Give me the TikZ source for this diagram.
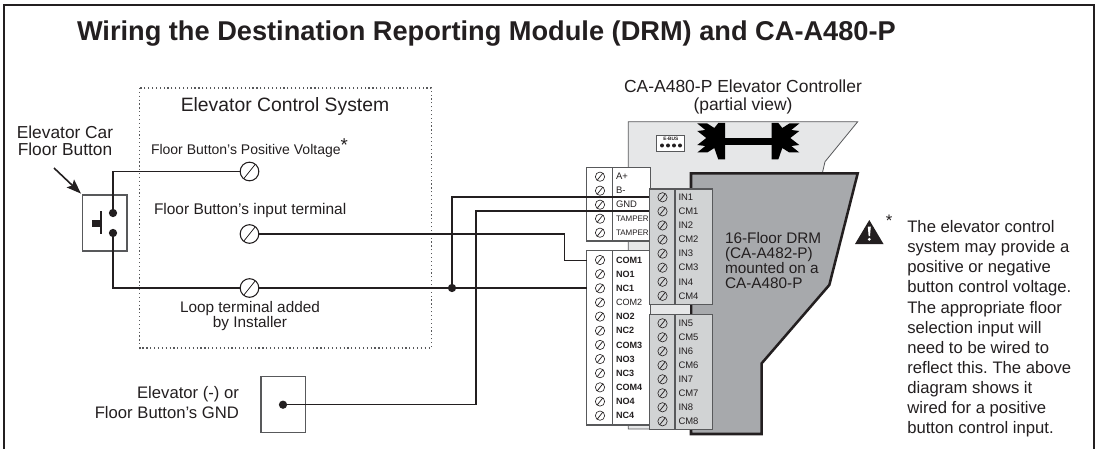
\documentclass[tikz,border=0pt]{standalone}
\usepackage{fontspec}
\setmainfont{Liberation Sans}
\usetikzlibrary{calc,positioning,arrows.meta}
\definecolor{inkblack}{HTML}{231F20}
\definecolor{boardgray}{HTML}{E6E7E8}
\definecolor{blockgray}{HTML}{D1D3D4}
\definecolor{modulegray}{HTML}{A7A9AC}
\definecolor{edgegray}{HTML}{58595B}
\newcommand{\fsize}[1]{\fontsize{#1}{#1}\selectfont}
\newcommand{\rly}[1]{{\fsize{6.8}\bfseries #1}}
\newcommand{\rlyplain}[1]{{\fsize{6.8}#1}}
\newcommand{\tmp}[1]{{\fsize{6}#1}}
\frenchspacing
\tikzset{
	wire/.style={line width=0.85pt, inkblack},
	label/.style={inner sep=0pt, outer sep=0pt, text=inkblack, align=center},
	rowlabel/.style={inner sep=0pt, outer sep=0pt, anchor=west, text=inkblack, font=\fsize{7.1}},
	screw/.style={circle, draw=inkblack, fill=white, line width=0.45pt, inner sep=0pt, outer sep=0pt, minimum size=7pt,
		path picture={\draw[inkblack, line width=0.55pt]
			($(path picture bounding box.south)!.8!(path picture bounding box.south west)$)--
			($(path picture bounding box.north)!.8!(path picture bounding box.north east)$);}},
	terminal/.style={screw, line width=0.8pt, minimum size=14pt},
	dotmark/.style={circle, fill=inkblack, inner sep=0pt, outer sep=0pt, minimum size=6.2pt},
	whitebox/.style={draw=edgegray, fill=white, line width=0.8pt, inner sep=0pt, outer sep=0pt},
	graybox/.style={draw=edgegray, fill=blockgray, line width=0.95pt, inner sep=0pt, outer sep=0pt},
}
\begin{document}
\begin{tikzpicture}[x=0.75pt, y=-0.75pt]
	\useasboundingbox (0,0) rectangle (1109,449);
	\fill[white] (0,0) rectangle (1109,449);
	\draw[line width=1.9pt, inkblack] (4,449)--(4,5)--(1094,5)--(1094,449);
	\node[label, anchor=west, font=\fsize{20.4}\bfseries] (title) at (77,34) {Wiring the Destination Reporting Module (DRM) and CA-A480-P};

	\draw[line width=0.9pt, edgegray, dotted] (139.5,88) rectangle (431.5,348);
	\node[label, font=\fsize{14.5}] (systemlabel) at (285,107) {Elevator Control System};
	\node[label, anchor=west, font=\fsize{10.5}] (poslabel) at (151,148) {Floor Button's Positive Voltage\raisebox{2.5pt}{\fsize{14}*}};
	\node[label, anchor=west, font=\fsize{11.6}] (inputlabel) at (154,210) {Floor Button’s input terminal};
	\node[label, font=\fontsize{11.5}{10.6}\selectfont] (looplabel) at (250,316) {Loop terminal added\\by Installer};
	\node[label, font=\fontsize{13}{12.8}\selectfont] (carlabel) at (65,141) {Elevator Car\\Floor Button};
	\node[label, anchor=east, align=right, font=\fontsize{12.5}{15}\selectfont] (gndlabel) at (239,403) {Elevator (-) or\\Floor Button's GND};
	\node[label, font=\fontsize{13.1}{12.8}\selectfont] (ctrllabel) at (743,97) {CA-A480-P Elevator Controller\\(partial view)};

	\node[draw=edgegray, line width=0.8pt, minimum width=33.4pt, minimum height=42pt, inner sep=0pt, outer sep=0pt] (floorbtn) at (104.75,223) {};
	\node[dotmark] (dottop) at (113,213) {};
	\node[dotmark] (dotbot) at (113,233) {};
	\draw[line width=0.9pt, inkblack] (101,211)--(101,234);
	\fill[inkblack] (92,220) rectangle (101,227);
	\coordinate (arrowtail) at (54,168);
	\draw[-{Stealth[length=11pt,width=8pt,inset=2pt]}, line width=1.2pt, inkblack, shorten >=1.5pt] (arrowtail)--(floorbtn.north west);

	\node[draw=edgegray, line width=0.8pt, minimum width=33.4pt, minimum height=42pt, inner sep=0pt, outer sep=0pt] (gndbox) at (283.25,404.5) {};
	\node[dotmark] (gnddot) at (283,404.7) {};

	\node[terminal] (termpos) at (249.5,171.5) {};
	\node[terminal] (terminput) at (249.5,234) {};
	\node[terminal] (termloop) at (249.5,288) {};

	\draw[draw=edgegray, line width=0.6pt, fill=boardgray] (628.3,121.7)--(857.7,121.7)--(825,161.7)--(822.3,173.3)--(691,173.3)--(691,429)--(628.3,429)--cycle;
	\draw[line width=1.9pt, draw=inkblack, fill=modulegray] (691,173.3)--(857.7,173.3)--(829.3,285)--(761.7,363.3)--(761.7,434)--(691,434)--cycle;

	\foreach \s in {1,-1} {
		\begin{scope}[shift={(748.3,0)}, xscale=\s]
			\fill[black] (-23.3,123)--(-30,123)--(-34,128)--(-41,123.5)--(-51,123.5)--(-43,130)--(-51,131)--(-42,138)--(-51,145)--(-43,146)--(-51,152.5)--(-41,152.5)--(-34,148)--(-30,159.5)--(-23.3,159.5)--cycle;
		\end{scope}
	}
	\fill[black] (725,137.7) rectangle (771.6,144.6);
	\node[draw=edgegray, fill=white, line width=0.6pt, minimum width=21pt, minimum height=11.5pt, inner sep=0pt, outer sep=0pt] (ebus) at (670.8,143.3) {};
	\node[label, font=\fsize{3.6}\bfseries] (ebuslabel) at (670.8,138.6) {E-BUS};
	\foreach \i in {1,2,3,4} {
		\node[dotmark, minimum size=3pt] (ebuspin\i) at ({656+6*\i},145.5) {};
	}

	\node[whitebox, minimum width=48pt, minimum height=55pt] (blockA) at (618.85,204.35) {};
	\node[whitebox, minimum width=48pt, minimum height=130.7pt] (blockB) at (618.85,337.85) {};
	\draw[line width=0.8pt, edgegray] (612.7,167.7)--(612.7,241);
	\draw[line width=0.8pt, edgegray] (612.7,250.7)--(612.7,425);

	\coordinate (gndtop) at (650,197);
	\coordinate (gndbot) at (650,211);
	\coordinate (bendin) at (564.7,234);
	\coordinate (bendgnd) at (476,211);
	\node[dotmark] (joint) at (452,288) {};
	\draw[wire] (dottop)|-(termpos);
	\draw[wire] (dotbot)|-(termloop);
	\draw[wire] (termloop)--(blockB.west|-termloop);
	\draw[wire] (terminput)--(bendin)|-(blockB.west|-0,260.7);
	\draw[wire] (joint)|-(gndtop);
	\draw[wire] (gnddot)-|(bendgnd)--(gndbot);

	\foreach \lbl [count=\i] in {A+,B-,GND,\tmp{TAMPER},\tmp{TAMPER}} {
		\node[screw] (screwA\i) at (600,{162.7+14*\i}) {};
		\node[rowlabel] (rowA\i) at (616,{162.7+14*\i}) {\lbl};
	}
	\foreach \lbl [count=\i] in {\rly{COM1},\rly{NO1},\rly{NC1},\rlyplain{COM2},\rly{NO2},\rly{NC2},\rly{COM3},\rly{NO3},\rly{NC3},\rly{COM4},\rly{NO4},\rly{NC4}} {
		\node[screw] (screwB\i) at (600,{245.85+14.15*\i}) {};
		\node[rowlabel] (rowB\i) at (616,{245.85+14.15*\i}) {\lbl};
	}

	\fill[boardgray] (651,304.3) rectangle (690,314.3);
	\node[graybox, minimum width=47.5pt, minimum height=86.5pt] (inblockA) at (681,246.65) {};
	\node[graybox, minimum width=47.5pt, minimum height=86.2pt] (inblockB) at (681,371.8) {};
	\draw[line width=0.95pt, edgegray] (675,189)--(675,304.3);
	\draw[line width=0.95pt, edgegray] (675,314.3)--(675,429.3);
	\foreach \lbl [count=\i] in {IN1,CM1,IN2,CM2,IN3,CM3,IN4,CM4} {
		\node[screw, fill=blockgray] (screwC\i) at (662.5,{183.2+14.08*\i}) {};
		\node[rowlabel] (rowC\i) at (678.5,{183.2+14.08*\i}) {\lbl};
	}
	\foreach \lbl [count=\i] in {IN5,CM5,IN6,CM6,IN7,CM7,IN8,CM8} {
		\node[screw, fill=blockgray] (screwD\i) at (662.5,{309.3+14*\i}) {};
		\node[rowlabel] (rowD\i) at (678.5,{309.3+14*\i}) {\lbl};
	}

	\node[label, anchor=north west, align=left, font=\fontsize{11.5}{11.3}\selectfont] (modlabel) at (725,232) {16-Floor DRM\\(CA-A482-P)\\mounted on a\\CA-A480-P};

	\fill[inkblack] (869.3,220)--(883.5,244)--(855,244)--cycle;
	\fill[white] (867.8,226.5)--(870.8,226.5)--(870,236)--(868.6,236)--cycle;
	\fill[white] (869.3,239.3) circle (1.6);
	\node[label, font=\fsize{12.5}] (notemark) at (889,221) {*};
	\node[label, anchor=north west, align=left, font=\fontsize{12.5}{15.08}\selectfont] (note) at (907.3,220.5) {The elevator control\\system may provide a\\positive or negative\\button control voltage.\\The appropriate floor\\selection input will\\need to be wired to\\reflect this. The above\\diagram shows it\\wired for a positive\\button control input.};
\end{tikzpicture}
\end{document}
